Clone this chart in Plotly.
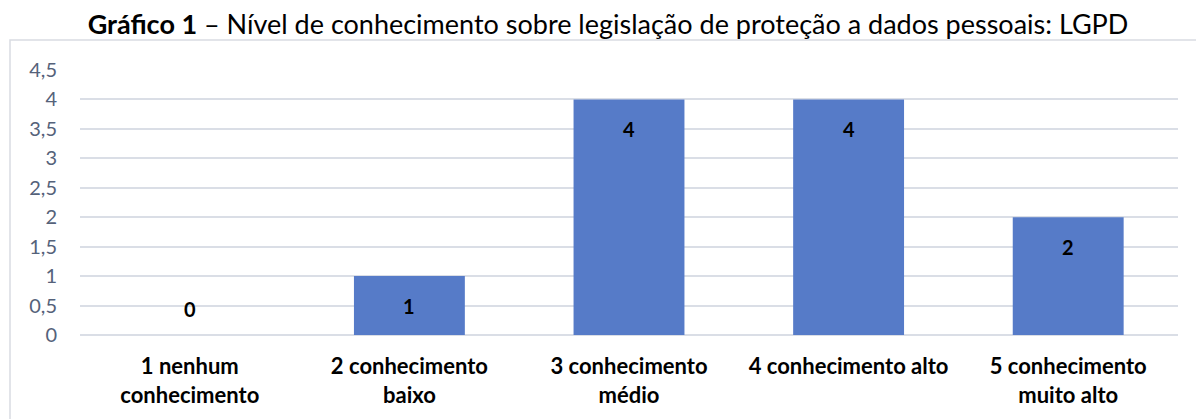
import plotly.graph_objects as go

categories = ["1 nenhum<br>conhecimento", "2 conhecimento<br>baixo", "3 conhecimento<br>médio",
              "4 conhecimento alto", "5 conhecimento<br>muito alto"]
values = [0, 1, 4, 4, 2]
tick_vals = [0, 0.5, 1, 1.5, 2, 2.5, 3, 3.5, 4, 4.5]
tick_text = ["0", "0,5", "1", "1,5", "2", "2,5", "3", "3,5", "4", "4,5"]

FONT = "Lato"
# page body has an 8px margin; layout numbers compensate for it
W, H = 1204, 419
L, R, T, B = 72, 34, 62, 92
PW, PH = W - L - R, H - T - B

fig = go.Figure()
fig.add_trace(go.Bar(
    x=categories, y=values,
    marker=dict(color="rgb(86,123,200)", line=dict(width=0)),
    width=0.505,
    hoverinfo="skip",
))

annotations = []
for c, v in zip(categories, values):
    annotations.append(dict(
        x=c, y=v, xref="x", yref="y", text=f"<b>{v}</b>", showarrow=False,
        yanchor="middle", yshift=-30 if v > 0 else 26,
        font=dict(family=FONT, size=20, color="black"),
    ))

fig.update_layout(
    width=W, height=H,
    margin=dict(l=L, r=R, t=T, b=B, autoexpand=False),
    paper_bgcolor="white", plot_bgcolor="white",
    showlegend=False,
    bargap=0.495,
    title=dict(
        text="<b>Gráfico 1</b> – Nível de conhecimento sobre legislação de proteção a dados pessoais: LGPD",
        x=600 / W, xanchor="center", xref="container",
        y=1 - 17 / H, yanchor="middle", yref="container",
        font=dict(family=FONT, size=27, color="black"),
    ),
    xaxis=dict(
        type="category", showgrid=False, zeroline=False, showline=False,
        ticks="", ticklabelstandoff=16, automargin=False,
        tickfont=dict(family=FONT, size=22, color="black", weight="bold"),
    ),
    yaxis=dict(
        range=[0, 4.5], tickvals=tick_vals, ticktext=tick_text,
        showgrid=True, gridcolor="#dadee6", gridwidth=1.5,
        zeroline=True, zerolinecolor="#dadee6", zerolinewidth=1.5,
        showline=False, ticks="", ticklabelstandoff=22, automargin=False,
        tickfont=dict(family=FONT, size=20, color="#55627a"),
    ),
    annotations=annotations,
    shapes=[dict(
        type="rect", xref="paper", yref="paper",
        x0=(2 - L) / PW, x1=1.08, y0=-0.4, y1=(T + PH - 32) / PH,
        line=dict(color="#d9dce2", width=1.5), fillcolor="rgba(0,0,0,0)", layer="below",
    )],
)

fig.write_html("out.html")
